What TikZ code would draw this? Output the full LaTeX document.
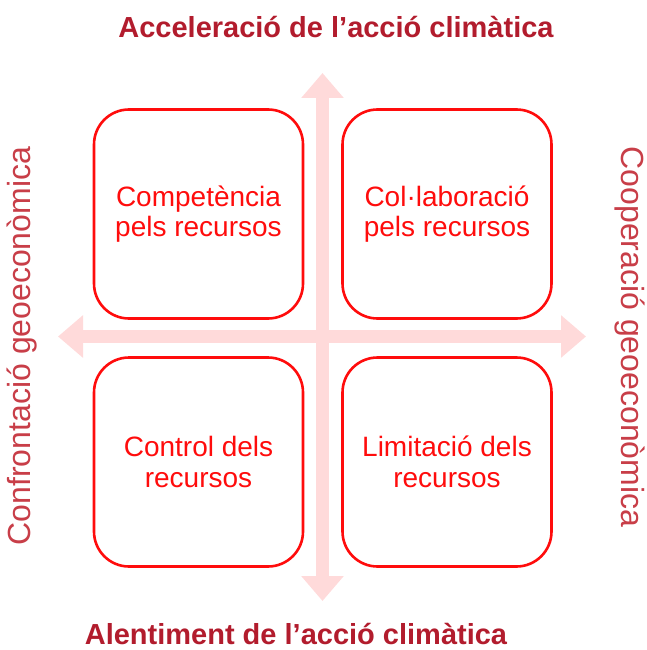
\documentclass[tikz,border=0pt]{standalone}
\usepackage{fontspec}
\setmainfont{Liberation Sans}
\usetikzlibrary{arrows.meta}
\definecolor{boxred}{RGB}{255,12,12}
\definecolor{axispink}{RGB}{255,218,218}
\definecolor{titlered}{RGB}{178,28,45}
\definecolor{sidered}{RGB}{200,62,72}
\begin{document}
\begin{tikzpicture}[
        x=1pt, y=-1pt,
        quadrant/.style={rectangle, draw=boxred, line width=2.6pt, rounded corners=35pt, fill=white, minimum width=209pt, minimum height=209pt, align=center, text=boxred, font=\fontsize{28}{30.5}\selectfont},
        axis/.style={draw=axispink, line width=13pt, {Triangle[width=41pt,length=25pt]}-{Triangle[width=41pt,length=25pt]}},
        title/.style={text=titlered, inner sep=0pt, font=\bfseries\fontsize{29}{34}\selectfont},
        side/.style={text=sidered, inner sep=0pt, font=\fontsize{32}{36}\selectfont}
    ]
    \useasboundingbox (0,0) rectangle (647,650);

    % axis ends
    \coordinate (up) at (322.5,73);
    \coordinate (down) at (322.5,601);
    \coordinate (left) at (58,336.5);
    \coordinate (right) at (586,336.5);
    \draw[axis] (up) -- (down);
    \draw[axis] (left) -- (right);

    % quadrants
    \node[quadrant] (compet) at (198.5,214) {Competència\\pels recursos};
    \node[quadrant] (collab) at (447,214) {Col·laboració\\pels recursos};
    \node[quadrant] (control) at (198.5,462) {Control dels\\recursos};
    \node[quadrant] (limit) at (447,462) {Limitació dels\\recursos};

    % axis labels
    \node[title] (accel) at (336,27) {Acceleració de l’acció climàtica};
    \node[title] (alent) at (296,634) {Alentiment de l’acció climàtica};
    \node[side, rotate=90] (confront) at (22,346) {Confrontació geoeconòmica};
    \node[side, rotate=-90] (coop) at (629.5,337) {Cooperació geoeconòmica};
\end{tikzpicture}
\end{document}
